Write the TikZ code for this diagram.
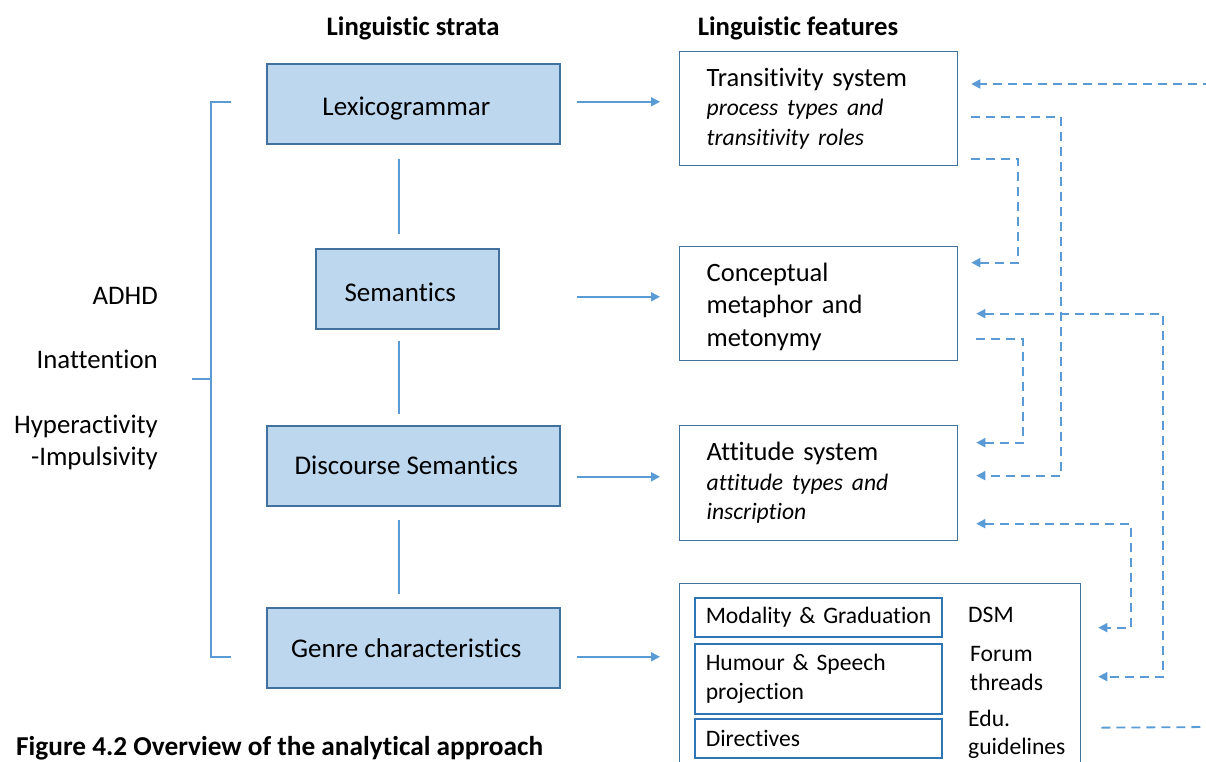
\documentclass[tikz,border=0pt]{standalone}
\usepackage{fontspec}
\setmainfont{Carlito}[Ligatures=NoCommon]
\usetikzlibrary{arrows.meta,calc}
\definecolor{stratafill}{HTML}{BDD7EE}
\definecolor{strataedge}{HTML}{41719C}
\definecolor{linkblue}{HTML}{5B9BD5}
\definecolor{featedge}{HTML}{41719C}
\definecolor{inneredge}{HTML}{2E75B6}
% stratum labels sit a little left of the box centre, lowered by #1
\newcommand\stratlabel[2]{\hspace*{-14pt}\raisebox{-#1}[\height][\depth]{#2}}
\begin{document}
\begin{tikzpicture}[x=1pt,y=-1pt,
  every node/.style={text=black},
  small/.style={font=\fontsize{23.6}{29}\selectfont},
  stratum/.style={font=\fontsize{27}{32}\selectfont, draw=strataedge, fill=stratafill, line width=1.6pt,
    minimum height=80pt, inner sep=0pt, anchor=north west},
  feature/.style={draw=featedge, line width=1.3pt, minimum height=114pt,
    text width=224pt, inner xsep=27pt, inner ysep=0pt, align=left, anchor=north west},
  innerbox/.style={small, draw=inneredge, line width=1.5pt, text width=225pt,
    inner xsep=11pt, inner ysep=0pt, align=left, anchor=north west},
  source/.style={small, anchor=west, align=left, inner sep=0pt},
  link/.style={draw=linkblue, line width=1.8pt},
  tip/.style={-{Triangle[length=9pt,width=9pt]}},
  bothtips/.style={{Triangle[length=9pt,width=9pt]}-{Triangle[length=9pt,width=9pt]}},
  dashlink/.style={link, dash pattern=on 9pt off 6pt},
]
\useasboundingbox (0,0) rectangle (1206,762);
\clip (0,0) rectangle (1206,762);

% column headings
\node[font=\fontsize{26.7}{32}\selectfont\bfseries] (hstrata) at (413,28) {Linguistic strata};
\node[font=\fontsize{26.7}{32}\selectfont\bfseries] (hfeat) at (798,28) {Linguistic features};

% strata
\node[stratum, minimum width=293pt] (lex)   at (266,63)  {\stratlabel{5pt}{Lexicogrammar}};
\node[stratum, minimum width=183pt] (sem)   at (315,248) {\stratlabel{4pt}{Semantics}};
\node[stratum, minimum width=293pt] (disc)  at (266,425) {\stratlabel{0pt}{Discourse Semantics}};
\node[stratum, minimum width=293pt] (genre) at (266,607) {\stratlabel{0pt}{Genre characteristics}};

% features
\node[feature, font=\fontsize{26.5}{29.5}\selectfont] (trans) at (679,51)
  {Transitivity system\\{\fontsize{23.6}{29}\selectfont\itshape process types and}\\{\fontsize{23.6}{29}\selectfont\itshape transitivity roles}};
\node[feature, font=\fontsize{26.5}{32.5}\selectfont] (conc) at (679,246)
  {\raisebox{-3pt}[\height][\depth]{Conceptual}\\\raisebox{-3pt}[\height][\depth]{metaphor and}\\\raisebox{-3pt}[\height][\depth]{metonymy}};
\node[feature, minimum height=115pt, font=\fontsize{26.5}{29.5}\selectfont] (att) at (679,425)
  {Attitude system\\{\fontsize{23.6}{29}\selectfont\itshape attitude types and}\\{\fontsize{23.6}{29}\selectfont\itshape inscription}};

% genre features and their data sources
\node[draw=featedge, line width=1.3pt, minimum width=401pt, minimum height=190pt,
  inner sep=0pt, anchor=north west] (docs) at (679,583) {};
\node[innerbox, minimum height=39pt] (mod) at (694,597) {\mbox{Modality \& Graduation}};
\node[innerbox, minimum height=70pt, font=\fontsize{23.6}{29}\selectfont] (hum) at (694,643) {\mbox{Humour \& Speech}\\projection};
\node[innerbox, minimum height=39pt] (dir) at (694,718) {Directives};
\node[source] (dsm) at (968,615) {DSM};
\node[source, font=\fontsize{23.6}{29}\selectfont] (forum) at (970,668.5) {Forum\\threads};
\node[source, font=\fontsize{23.6}{28}\selectfont] (edu) at (968,734) {Edu.\\guidelines};

% ADHD dimensions
\node[font=\fontsize{26.8}{32}\selectfont, align=right, anchor=east, inner sep=0pt] (adhd) at (158,379)
  {ADHD\\[32pt]Inattention\\[33pt]Hyperactivity\\-Impulsivity};

% caption
\node[font=\fontsize{27.3}{32}\selectfont\bfseries, anchor=west, inner sep=0pt] (cap) at (16,748)
  {Figure 4.2 Overview of the analytical approach};

% bracket joining the strata to the ADHD dimensions
\coordinate (bar) at (211,378);
\coordinate (btop) at ([shift={(-35,-2)}]lex.west);
\coordinate (bbot) at ([shift={(-35,9)}]genre.west);
\draw[link] (btop) -| (bar) |- (bbot);
\draw[link] ([xshift=34pt]adhd.east) -- (bar |- adhd.east);

% links between strata
\coordinate (spine) at (399,0);
\draw[link, shorten <=14pt, shorten >=14pt] (lex.south -| spine) -- (sem.north -| spine);
\draw[link, shorten <=11pt, shorten >=11pt] (sem.south -| spine) -- (disc.north -| spine);
\draw[link, shorten <=13pt, shorten >=13pt] (disc.south -| spine) -- (genre.north -| spine);

% strata to features
\coordinate (s1) at ([shift={(0,-2)}]lex.east);
\coordinate (s2) at ([shift={(61,8)}]sem.east);
\coordinate (s3) at ([shift={(0,11)}]disc.east);
\coordinate (s4) at ([shift={(0,9)}]genre.east);
\draw[link, tip, shorten <=16pt, shorten >=19pt] (s1) -- (s1 -| trans.west);
\draw[link, tip, shorten <=16pt, shorten >=19pt] (s2) -- (s2 -| conc.west);
\draw[link, tip, shorten <=16pt, shorten >=19pt] (s3) -- (s3 -| att.west);
\draw[link, tip, shorten <=16pt, shorten >=19pt] (s4) -- (s4 -| docs.west);

% dashed cross-links on the right
\coordinate (offA) at (1212,84);
\coordinate (offG) at (1212,727);
\coordinate (colB) at (1061,300);
\coordinate (colC) at (1018,200);
\coordinate (colD) at (1163,500);
\coordinate (colE) at (1023,400);
\coordinate (colF) at (1131,570);

\draw[dashlink, tip] (offA) -- ([xshift=13pt]trans.east |- offA);
\draw[dashlink, tip] ([shift={(13,8)}]trans.east) -| (colB) |- ([shift={(18,-7.5)}]att.east);
\draw[dashlink, tip] ([shift={(13,50)}]trans.east) -| (colC) |- ([shift={(13,-41)}]conc.east);
\draw[dashlink, bothtips] ([shift={(18,10)}]conc.east) -| (colD) |- ([shift={(17,-2)}]docs.east);
\draw[dashlink, tip] ([shift={(18,35)}]conc.east) -| (colE) |- ([shift={(18,-40.5)}]att.east);
\draw[dashlink, bothtips] ([shift={(18,40.5)}]att.east) -| (colF) |- ([shift={(17,-51)}]docs.east);
\draw[dashlink] ([shift={(20,49)}]docs.east) -- (offG);
\end{tikzpicture}
\end{document}
